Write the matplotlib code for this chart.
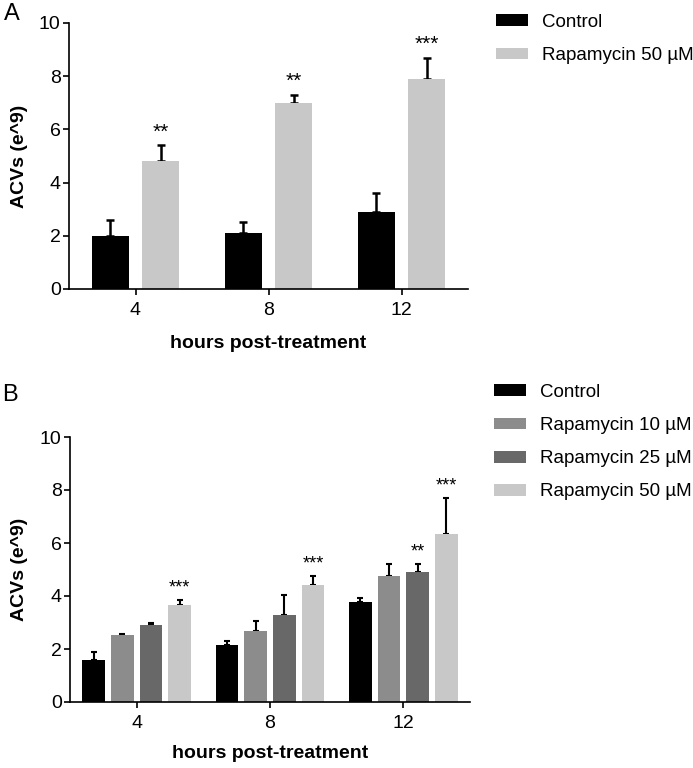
import numpy as np
import matplotlib
matplotlib.use("Agg")
import matplotlib.pyplot as plt

plt.rcParams['font.family'] = ['Liberation Sans', 'DejaVu Sans']

# --- data ---
hours = ["4", "8", "12"]

# panel A
a_labels = ["Control", "Rapamycin 50 \u00b5M"]
a_means = [[2.0, 2.1, 2.9],
           [4.8, 7.0, 7.9]]
a_err = [[0.6, 0.4, 0.7],
         [0.6, 0.3, 0.8]]
a_stars = [["", "", ""],
           ["**", "**", "***"]]
a_colors = ["#000000", "#c8c8c8"]

# panel B
b_labels = ["Control", "Rapamycin 10 \u00b5M", "Rapamycin 25 \u00b5M", "Rapamycin 50 \u00b5M"]
b_means = [[1.58, 2.15, 3.77],
           [2.53, 2.68, 4.75],
           [2.90, 3.28, 4.90],
           [3.66, 4.42, 6.33]]
b_err = [[0.30, 0.15, 0.15],
         [0.04, 0.37, 0.45],
         [0.07, 0.75, 0.30],
         [0.19, 0.33, 1.37]]
b_stars = [["", "", ""],
           ["", "", ""],
           ["", "", "**"],
           ["***", "***", "***"]]
b_colors = ["#000000", "#8c8c8c", "#686868", "#c8c8c8"]


def draw_panel(ax, labels, means, errs, stars, colors, width, step,
               capsize, elw, starsize):
    x = np.arange(len(hours))
    n = len(labels)
    for i in range(n):
        pos = x + (i - (n - 1) / 2) * step
        ax.bar(pos, means[i], width, color=colors[i], label=labels[i], zorder=2)
        ax.errorbar(pos, means[i], yerr=[np.zeros(len(hours)), errs[i]],
                    fmt='none', ecolor='black', elinewidth=elw,
                    capsize=capsize, capthick=elw, zorder=1)
        for j in range(len(hours)):
            if stars[i][j]:
                ax.text(pos[j], means[i][j] + errs[i][j] + 0.3, stars[i][j],
                        ha='center', va='baseline', fontsize=starsize)
    ax.set_xlim(-0.5, 2.5)
    ax.set_ylim(0, 10)
    ax.set_xticks(x)
    ax.set_xticklabels(hours)
    ax.set_yticks([0, 2, 4, 6, 8, 10])
    for s in ['top', 'right']:
        ax.spines[s].set_visible(False)
    for s in ['left', 'bottom']:
        ax.spines[s].set_linewidth(1.2)
    ax.tick_params(axis='y', length=4.5, width=1.2, pad=1.5, labelsize=14)
    ax.tick_params(axis='x', length=4.5, width=1.2, pad=5, labelsize=14)
    ax.set_ylabel("ACVs (e^9)", fontsize=14, fontweight='bold')
    ax.set_xlabel("hours post-treatment", fontsize=14, fontweight='bold')
    ax.xaxis.label.set_va('center')


fig = plt.figure(figsize=(6.93, 7.68), dpi=100)
W, H = 693.0, 768.0

leg_kw = dict(bbox_transform=fig.transFigure, loc='upper left', frameon=False,
              fontsize=13.5, borderpad=0, borderaxespad=0, handlelength=1.7,
              handleheight=0.6, handletextpad=0.75, labelspacing=0.86)

# panel A
axA = fig.add_axes([69 / W, 1 - 289 / H, 399 / W, 266 / H])
draw_panel(axA, a_labels, a_means, a_err, a_stars, a_colors,
           width=0.278, step=0.376, capsize=2.9, elw=1.8, starsize=15)
axA.xaxis.set_label_coords(0.5, -55 / 266)
axA.yaxis.set_label_coords(-0.103, 0.5)
axA.legend(bbox_to_anchor=(496 / W, 1 - 14 / H), **leg_kw)

# panel B
axB = fig.add_axes([70 / W, 1 - 702 / H, 400 / W, 265 / H])
draw_panel(axB, b_labels, b_means, b_err, b_stars, b_colors,
           width=0.17, step=0.215, capsize=2.0, elw=1.5, starsize=13)
axB.xaxis.set_label_coords(0.5, -52 / 265)
axB.yaxis.set_label_coords(-0.105, 0.5)
axB.legend(bbox_to_anchor=(494 / W, 1 - 384 / H), **leg_kw)

fig.text(4 / W, 1 - 13.5 / H, "A", fontsize=17, va='center', ha='left')
fig.text(2 / W, 1 - 395 / H, "B", fontsize=17, va='center', ha='left')

fig.savefig("out.png", dpi=100)
